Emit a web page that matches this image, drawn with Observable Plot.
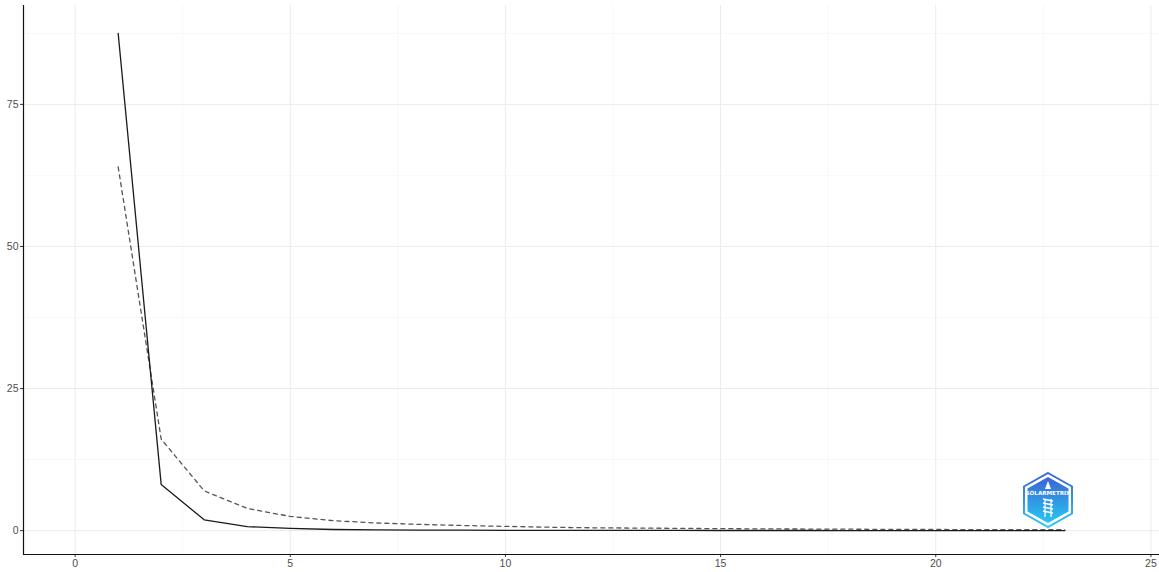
<!DOCTYPE html>
<html>
<head>
<meta charset="utf-8">
<script src="https://cdn.jsdelivr.net/npm/d3@7"></script>
<script src="https://cdn.jsdelivr.net/npm/@observablehq/plot@0.6"></script>
<style>
  html, body { margin: 0; padding: 0; background: #fff; }
  #wrap { position: relative; width: 1159px; height: 572px; }
  #logo { position: absolute; left: 1022px; top: 472px; }
</style>
</head>
<body>
<div id="wrap"><div id="chart"></div>
<svg id="logo" width="52" height="56" viewBox="0 0 52 56">
  <defs>
    <linearGradient id="lg" x1="0" y1="0" x2="0" y2="1">
      <stop offset="0" stop-color="#3b63d6"/>
      <stop offset="1" stop-color="#28c8f0"/>
    </linearGradient>
  </defs>
  <polygon points="26,1 50,14.5 50,41.5 26,55 2,41.5 2,14.5" fill="none" stroke="url(#lg)" stroke-width="2"/>
  <polygon points="26,5 46.5,16.5 46.5,39.5 26,51 5.5,39.5 5.5,16.5" fill="url(#lg)"/>
  <polygon points="26,9 29,17 23,17" fill="#fff"/>
  <text x="26" y="23" text-anchor="middle" font-family="DejaVu Sans" font-weight="bold" font-size="5.6" fill="#fff">SOLARMETRIX</text>
  <path d="M21 27 L31 29 M21 31 L31 33 M21 35 L31 37 M21 39 L31 41 M23 27 L23 45 M29 27 L29 45" stroke="#fff" stroke-width="1.3" fill="none"/>
</svg>
</div>
<script>
const xs = [1,2,3,4,5,6,7,8,9,10,11,12,13,14,15,16,17,18,19,20,21,22,23];
const solid = [87.5,8.1,1.9,0.7,0.4,0.2,0.15,0.1,0.08,0.06,0.05,0.04,0.03,0.03,0.02,0.02,0.02,0.01,0.01,0.01,0.01,0.01,0.01];
const dashed = [64,16.1,7.0,3.9,2.5,1.75,1.35,1.1,0.9,0.75,0.6,0.5,0.45,0.4,0.35,0.3,0.28,0.25,0.22,0.2,0.18,0.16,0.15];
const xMajor = [0,5,10,15,20,25];
const xMinor = [2.5,7.5,12.5,17.5,22.5];
const yMajor = [0,25,50,75];
const yMinor = [12.5,37.5,62.5,87.5];

const solidData = xs.map((x,i)=>({x, y: solid[i]}));
const dashedData = xs.map((x,i)=>({x, y: dashed[i]}));

const chart = Plot.plot({
  width: 1159,
  height: 572,
  marginLeft: 23,
  marginRight: 0,
  marginTop: 5,
  marginBottom: 18,
  style: {fontFamily: "Liberation Sans, Arial, sans-serif", fontSize: "10.5px", background: "#fff", color: "#4d4d4d"},
  x: {domain: [-1.2, 25.2], label: null},
  y: {domain: [-4.2, 92.4], label: null},
  marks: [
    Plot.ruleX(xMinor, {stroke: "#f4f4f4", strokeWidth: 0.6}),
    Plot.ruleY(yMinor, {stroke: "#f4f4f4", strokeWidth: 0.6}),
    Plot.ruleX(xMajor, {stroke: "#ebebeb", strokeWidth: 1}),
    Plot.ruleY(yMajor, {stroke: "#ebebeb", strokeWidth: 1}),
    Plot.axisX({ticks: xMajor, tickSize: 3, tickPadding: 2, fill: "#4d4d4d", stroke: "#333"}),
    Plot.axisY({ticks: yMajor, tickSize: 3, tickPadding: 2, fill: "#4d4d4d", stroke: "#333"}),
    Plot.ruleX([-1.2], {stroke: "#111", strokeWidth: 1.2}),
    Plot.ruleY([-4.2], {stroke: "#111", strokeWidth: 1.2}),
    Plot.line(dashedData, {x: "x", y: "y", stroke: "#555", strokeWidth: 1.3, strokeDasharray: "4,4"}),
    Plot.line(solidData, {x: "x", y: "y", stroke: "#1a1a1a", strokeWidth: 1.3})
  ]
});
document.getElementById("chart").appendChild(chart);
</script>
</body>
</html>
